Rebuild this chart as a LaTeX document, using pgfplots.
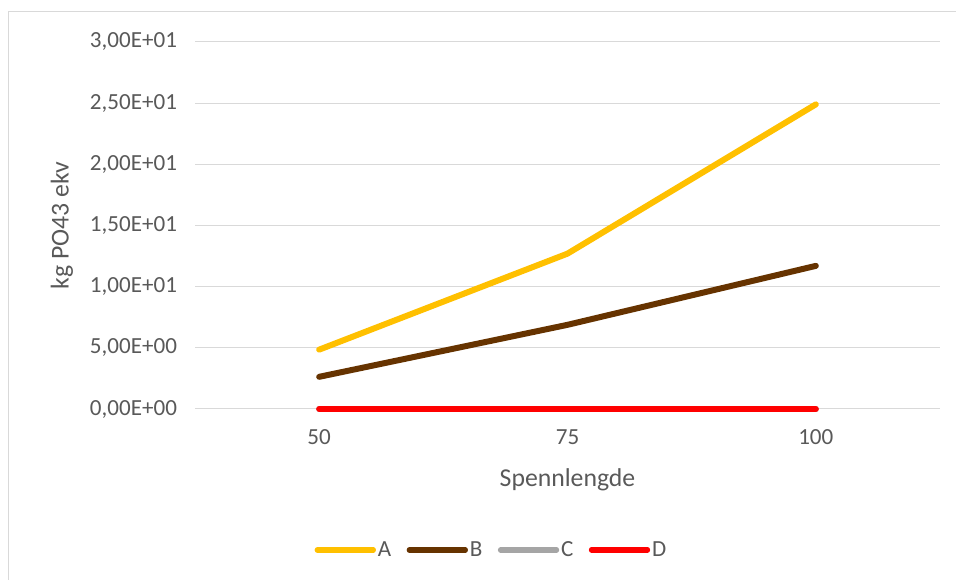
\documentclass[border=0pt]{standalone}
\usepackage{pgfplots}
\pgfplotsset{compat=1.18}
\usepackage{fontspec}
\setmainfont{Carlito}
\definecolor{txt}{HTML}{595959}
\definecolor{gridc}{HTML}{D9D9D9}
\definecolor{cA}{HTML}{FFC000}
\definecolor{cB}{HTML}{663300}
\definecolor{cC}{HTML}{A5A5A5}
\definecolor{cD}{HTML}{FF0000}
\begin{document}
\begin{tikzpicture}
\useasboundingbox (0,0) rectangle (717pt,435pt);
\draw[gridc, line width=0.75pt] (6pt,-5pt) -- (6pt,426pt) -- (722pt,426pt);
\begin{axis}[
  at={(146.25pt,128.25pt)}, anchor=south west,
  scale only axis, width=558.75pt, height=275.25pt,
  xmin=-0.5, xmax=2.5, ymin=0, ymax=30,
  xtick={0,1,2}, xticklabels={50,75,100},
  ytick={0,5,10,15,20,25,30},
  yticklabels={{0,00E+00},{5,00E+00},{1,00E+01},{1,50E+01},{2,00E+01},{2,50E+01},{3,00E+01}},
  /pgf/number format/assume math mode=true,
  axis line style={draw=none},
  major tick length=0pt,
  ymajorgrids, grid style={gridc, line width=0.75pt},
  tick label style={font=\fontsize{17.3}{20}\selectfont, text=txt},
  yticklabel style={xshift=-10pt},
  xticklabel style={yshift=-12pt},
  label style={font=\fontsize{19.3}{22}\selectfont, text=txt},
  xlabel={Spennlengde},
  xlabel style={at={(axis description cs:0.5,-0.193)}, anchor=center},
  ylabel={kg PO43 ekv},
  ylabel style={at={(axis description cs:-0.1785,0.5)}, anchor=center},
  clip=false,
  every axis plot/.append style={line width=4.5pt, line cap=round, line join=round},
  legend columns=4,
  legend style={at={(axis description cs:0.398,-0.384)}, anchor=center, draw=none,
    font=\fontsize{17.3}{20}\selectfont, text=txt,
    nodes={inner sep=1.5pt},
    /tikz/every even column/.append style={column sep=10pt}},
  legend image code/.code={\draw[#1, line width=4pt, line cap=round] (0pt,0pt) -- (42pt,0pt);},
]
\addplot[cA] coordinates {(0,4.85) (1,12.7) (2,24.9)};
\addlegendentry{A}
\addplot[cB] coordinates {(0,2.63) (1,6.88) (2,11.7)};
\addlegendentry{B}
\addplot[cC] coordinates {(0,0.0) (1,0.0) (2,0.0)};
\addlegendentry{C}
\addplot[cD] coordinates {(0,0.0) (1,0.0) (2,0.0)};
\addlegendentry{D}
\end{axis}
\end{tikzpicture}
\end{document}
